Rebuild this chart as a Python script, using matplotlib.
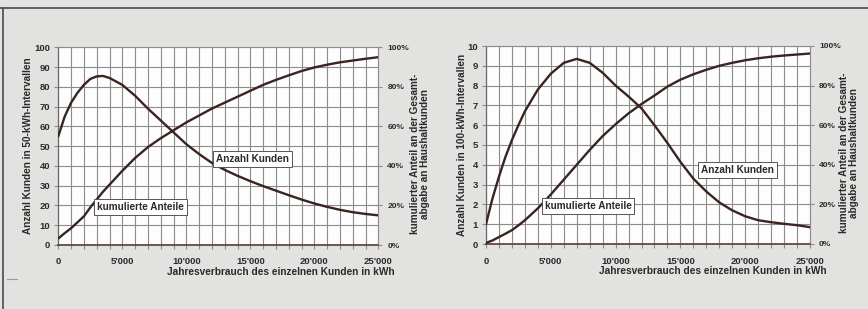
import numpy as np
import matplotlib.pyplot as plt

# x positions (kWh per year)
kwh_left = [0, 500, 1000, 1500, 2000, 2500, 3000, 3500, 4000, 5000, 6000, 7000, 8000, 9000,
            10000, 11000, 12000, 13000, 14000, 15000, 16000, 17000, 18000, 19000, 20000,
            21000, 22000, 23000, 24000, 25000]
# left chart: customers per 50-kWh interval
kunden_left = [55, 65, 72, 77, 81, 84, 85.3, 85.5, 84.5, 81, 75.5, 69, 63, 57,
               51, 46, 41.5, 38, 35, 32.3, 29.8, 27.5, 25.2, 23, 21,
               19.3, 17.8, 16.6, 15.7, 15]
# left chart: cumulated share in %
kum_left = [3.3, 6, 8.5, 11.5, 14.5, 19, 23, 27, 30.5, 37.5, 44, 49.5, 54, 58,
            62, 65.5, 69, 72, 75, 78, 81, 83.5, 85.8, 88, 89.8,
            91.2, 92.4, 93.3, 94.2, 95]

kwh_right = [0, 500, 1000, 1500, 2000, 2500, 3000, 4000, 5000, 6000, 7000, 8000, 9000,
             10000, 11000, 12000, 13000, 14000, 15000, 16000, 17000, 18000, 19000, 20000,
             21000, 22000, 23000, 24000, 25000]
# right chart: customers per 100-kWh interval
kunden_right = [1.0, 2.3, 3.4, 4.4, 5.25, 6.0, 6.7, 7.8, 8.6, 9.15, 9.35, 9.15, 8.65,
                8.0, 7.45, 6.85, 6.0, 5.1, 4.15, 3.3, 2.65, 2.1, 1.7, 1.4,
                1.2, 1.1, 1.02, 0.95, 0.85]
# right chart: cumulated share in %
kum_right = [0.5, 1.8, 3.5, 5.2, 7, 9.4, 12, 18, 25, 32.5, 40, 47.5, 54.5,
             60.5, 66, 70.7, 75, 79.5, 83, 85.7, 88, 90, 91.5, 92.8,
             93.8, 94.6, 95.2, 95.7, 96.2]

x_ticks = [0, 5000, 10000, 15000, 20000, 25000]
x_ticklabels = ["0", "5'000", "10'000", "15'000", "20'000", "25'000"]
pct_ticks = [0, 20, 40, 60, 80, 100]
pct_ticklabels = ["0%", "20%", "40%", "60%", "80%", "100%"]

BG = '#e2e2e0'
CURVE = '#3a2420'
GRID = '#8c8c8c'
TXT = '#2a2a2a'
FONT = 'Liberation Sans'

plt.rcParams['font.family'] = [FONT, 'DejaVu Sans']
plt.rcParams['font.weight'] = 'bold'
plt.rcParams['axes.labelweight'] = 'bold'

fig = plt.figure(figsize=(8.68, 3.09), dpi=100)
fig.patch.set_facecolor(BG)

# frame lines of the scanned page
fig.add_artist(plt.Line2D([0, 1], [1 - 8 / 309, 1 - 8 / 309], color='#4a4a4a', lw=1.2))
fig.add_artist(plt.Line2D([3 / 868, 3 / 868], [0, 1 - 8 / 309], color='#4a4a4a', lw=1.2))
fig.add_artist(plt.Line2D([7 / 868, 17 / 868], [1 - 279 / 309, 1 - 279 / 309], color='#9a9a9a', lw=0.8))


def draw_panel(rect, xs, kunden, kum, ymax, ystep, ylabel, box_kunden, box_kum, lab_l, lab_r):
    ax = fig.add_axes(rect)
    ax.set_facecolor('#fdfdfd')
    ax.set_xlim(0, 25000)
    ax.set_ylim(0, ymax)

    ax.set_xticks(np.arange(0, 25001, 1000), minor=True)
    ax.set_xticks(x_ticks)
    ax.set_xticklabels(x_ticklabels)
    ax.set_yticks(np.arange(0, ymax + ystep / 2, ystep))
    if ymax == 10:
        ax.set_yticklabels([str(int(v)) for v in np.arange(0, 11, 1)])

    ax.grid(True, which='both', color=GRID, lw=0.8)
    ax.set_axisbelow(True)
    ax.tick_params(axis='both', which='both', direction='out', length=3, width=0.8,
                   color=GRID, labelsize=6.8, labelcolor=TXT, pad=3)
    ax.tick_params(axis='x', which='both', length=3, pad=6)
    for side in ['top', 'right']:
        ax.spines[side].set_color(GRID)
        ax.spines[side].set_linewidth(0.8)
    ax.spines['left'].set_color('#6a6a6a')
    ax.spines['left'].set_linewidth(0.9)
    ax.spines['bottom'].set_color('#5a3a32')
    ax.spines['bottom'].set_linewidth(1.2)

    ax.plot(xs, kunden, color=CURVE, lw=1.7, solid_capstyle='round', zorder=3)

    ax2 = ax.twinx()
    ax2.set_ylim(0, 100)
    ax2.set_yticks(pct_ticks)
    ax2.set_yticklabels(pct_ticklabels)
    ax2.tick_params(axis='y', direction='out', length=3, width=0.8, color=GRID,
                    labelsize=6.0, labelcolor=TXT, pad=3.5)
    for side in ['top', 'right', 'left', 'bottom']:
        ax2.spines[side].set_visible(False)
    ax2.plot(xs, kum, color=CURVE, lw=1.7, solid_capstyle='round', zorder=3)

    ax.set_ylabel(ylabel, fontsize=7.2, color=TXT)
    ax.yaxis.set_label_coords(lab_l, 0.5)
    ax.yaxis.label.set_va('center')
    ax2.set_ylabel("kumulierter Anteil an der Gesamt-\nabgabe an Haushaltkunden",
                   fontsize=7.2, color=TXT, linespacing=1.0)
    ax2.yaxis.set_label_coords(lab_r, 0.46)
    ax2.yaxis.label.set_va('center')
    ax.text(1.052, -0.135, "Jahresverbrauch des einzelnen Kunden in kWh",
            transform=ax.transAxes, ha='right', va='center', fontsize=7.3, color=TXT)

    bbox = dict(boxstyle='square,pad=0.3', fc='white', ec='#555555', lw=0.7)
    ax.text(box_kunden[0], box_kunden[1], "Anzahl Kunden", ha='center', va='center',
            fontsize=7.2, color=TXT, bbox=bbox, zorder=5)
    ax2.text(box_kum[0], box_kum[1], "kumulierte Anteile", ha='center', va='center',
             fontsize=7.2, color=TXT, bbox=bbox, zorder=5)
    return ax


draw_panel([58.3 / 868, 64 / 309, 320 / 868, 197.7 / 309], kwh_left, kunden_left, kum_left,
           100, 10, "Anzahl Kunden in 50-kWh-Intervallen", (15200, 43.5), (6400, 19.2),
           -0.095, 1.13)
draw_panel([486 / 868, 65 / 309, 324 / 868, 198 / 309], kwh_right, kunden_right, kum_right,
           10, 1, "Anzahl Kunden in 100-kWh-Intervallen", (19400, 3.74), (7870, 19),
           -0.074, 1.12)

fig.savefig('out.png', dpi=100, facecolor=fig.get_facecolor())
